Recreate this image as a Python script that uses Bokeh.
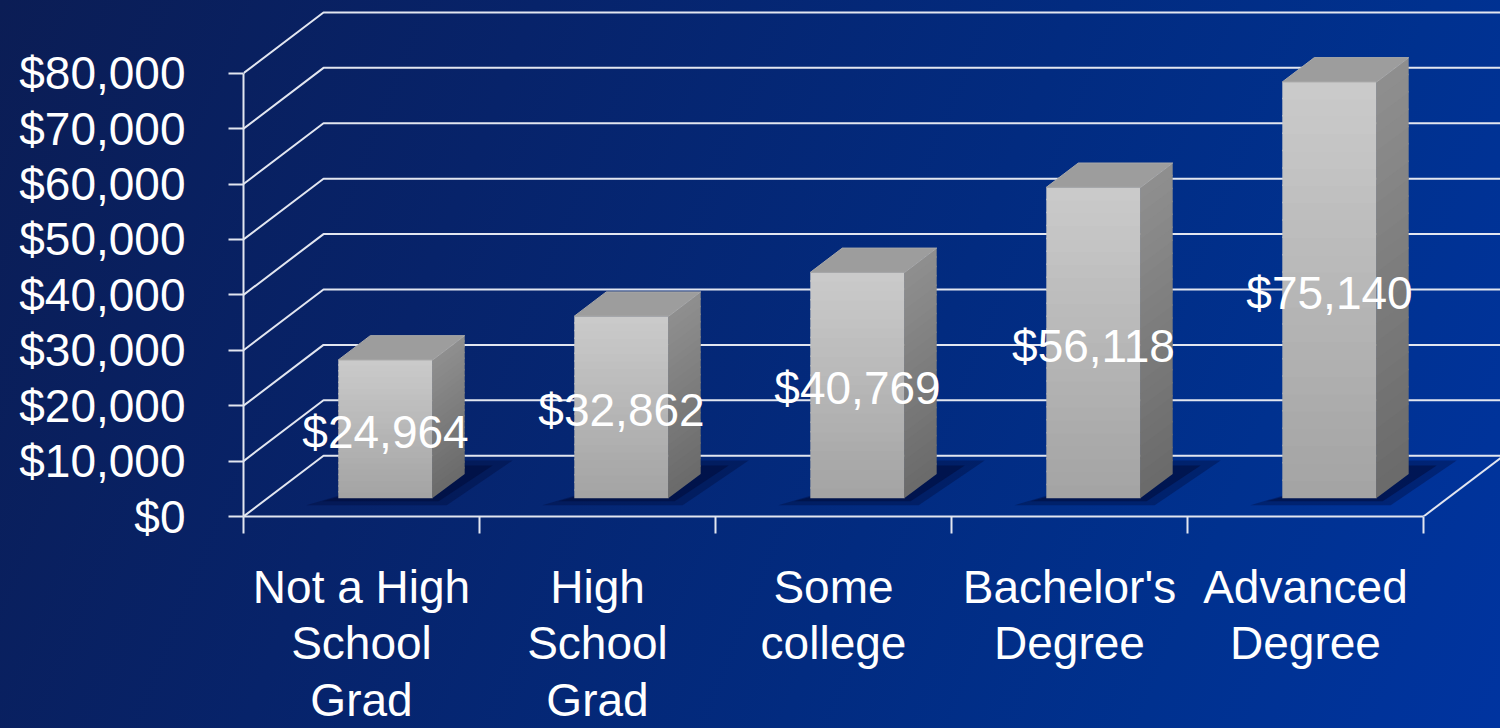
import numpy as np
from bokeh.plotting import figure
from bokeh.models import Range1d, FixedTicker, NumeralTickFormatter
from bokeh.core.properties import value
from bokeh.embed import file_html
from bokeh.resources import INLINE

# ---------------- data ----------------
categories = ["Not a High School Grad", "High School Grad", "Some college",
              "Bachelor's Degree", "Advanced Degree"]
tick_labels = ["Not a High\nSchool\nGrad", "High\nSchool\nGrad", "Some\ncollege",
               "Bachelor's\nDegree", "Advanced\nDegree"]
values = [24964, 32862, 40769, 56118, 75140]
value_labels = ["$24,964", "$32,862", "$40,769", "$56,118", "$75,140"]
y_ticks = [0, 10000, 20000, 30000, 40000, 50000, 60000, 70000, 80000]

# ---------------- geometry / style ----------------
FONT = "Liberation Sans"
W, H = 1500, 728
LEFT, BOTTOM = 243, 210
PX_PER_USD = 445 / 80000.0
BAND_PX = 236.0
X0 = 0.5
XMAX = X0 + (W - LEFT) / BAND_PX
YMAX = (H - BOTTOM) / PX_PER_USD
DX = 80 / BAND_PX          # depth offset in x (data units)
DY = 61 / PX_PER_USD       # depth offset in y (data units)
F0, DEP, BW = 0.3, 0.4, 0.40
PXX = 1 / BAND_PX
PXY = 1 / PX_PER_USD
GRID = "#e2e6f0"

p = figure(width=W, height=H, x_range=Range1d(X0, XMAX), y_range=Range1d(0, YMAX),
           output_backend="svg", toolbar_location=None,
           min_border_left=LEFT, min_border_bottom=BOTTOM,
           min_border_top=0, min_border_right=0)
p.grid.visible = False
p.outline_line_color = None
p.background_fill_alpha = 0
p.border_fill_alpha = 0
p.styles = {
    "background": "linear-gradient(112deg, #0b1d55 0%, #07236a 30%, #022b80 60%, #00318f 80%, #0034a0 100%)",
}

# ---------------- walls / gridlines ----------------
gx, gy = [], []
for t in y_ticks:
    gx.append([X0, X0 + DX, XMAX + 1])
    gy.append([t, t + DY, t + DY])
n_cat = len(categories)
gx.append([X0 + n_cat, X0 + n_cat + DX])
gy.append([0, DY])
p.multi_line(gx, gy, line_color=GRID, line_width=2)

# ---------------- bars ----------------
def mix(c1, c2, f):
    a = np.array([int(c1[i:i + 2], 16) for i in (1, 3, 5)], float)
    b = np.array([int(c2[i:i + 2], 16) for i in (1, 3, 5)], float)
    c = a + (b - a) * f
    return "#%02x%02x%02x" % tuple(int(round(v)) for v in c)

N = 24
shx_o, shy_o, shx_i, shy_i = [], [], [], []
qL, qR, qB, qT, qC = [], [], [], [], []
sX, sY, sC = [], [], []
tX, tY = [], []
lx, ly = [], []
for i, v in enumerate(values):
    cx = i + 1 + F0 * DX
    x0, x1 = cx - BW / 2, cx + BW / 2
    yb = F0 * DY
    ddx, ddy = DEP * DX, DEP * DY
    top = yb + v
    # shadow (outer soft + inner dark)
    shx_o.append([x0 - 32 * PXX, x1 + 14 * PXX, x1 + 80 * PXX, x1 + 25 * PXX])
    shy_o.append([yb - 7 * PXY, yb - 7 * PXY, yb + 38 * PXY, yb + 38 * PXY])
    shx_i.append([x0 - 16 * PXX, x1 + 6 * PXX, x1 + 60 * PXX, x1 + 25 * PXX])
    shy_i.append([yb - 3 * PXY, yb - 3 * PXY, yb + 33 * PXY, yb + 33 * PXY])
    # front and side face strips (slightly overlapping to hide seams)
    for k in range(N):
        f = (k + 0.5) / N
        b0 = yb + v * k / N
        b1 = min(yb + v * (k + 1) / N + 1.5 * PXY, top)
        qL.append(x0); qR.append(x1); qB.append(b0); qT.append(b1)
        qC.append(mix("#a3a3a3", "#cbcbcb", f))
        sX.append([x1 - 0.5 * PXX, x1 + ddx, x1 + ddx, x1 - 0.5 * PXX])
        sY.append([b0, b0 + ddy, b1 + ddy, b1])
        sC.append(mix("#6a6a6a", "#8f8f8f", f))
    tX.append([x0, x1, x1 + ddx, x0 + ddx])
    tY.append([top, top, top + ddy, top + ddy])
    lx.append(cx)
    ly.append(yb + v / 2)

p.patches(shx_o, shy_o, fill_color="#000a35", fill_alpha=0.35, line_color=None)
p.patches(shx_i, shy_i, fill_color="#000a35", fill_alpha=0.5, line_color=None)
p.quad(left=qL, right=qR, bottom=qB, top=qT, fill_color=qC, line_color=None)
p.patches(sX, sY, fill_color=sC, line_color=None)
p.patches(tX, tY, fill_color="#9d9d9d", line_color="#a9a9a9", line_width=1)

p.text(x=lx, y=ly, text=value_labels, text_font=value(FONT), text_font_size="46px",
       text_color="#ffffff", text_align="center", text_baseline="middle", y_offset=3)

# ---------------- axes ----------------
yax = p.yaxis[0]
yax.ticker = FixedTicker(ticks=y_ticks)
yax.formatter = NumeralTickFormatter(format="$0,0")
yax.bounds = (0, 80000)
yax.axis_line_color = GRID
yax.axis_line_width = 2
yax.major_tick_line_color = GRID
yax.major_tick_line_width = 2
yax.major_tick_out = 15
yax.major_tick_in = 0
yax.minor_tick_line_color = None
yax.major_label_text_font = FONT
yax.major_label_text_font_size = "46px"
yax.major_label_text_color = "#ffffff"
yax.major_label_standoff = 43

xax = p.xaxis[0]
xax.ticker = FixedTicker(ticks=[i + 1 for i in range(n_cat)],
                         minor_ticks=[i + 0.5 for i in range(n_cat + 1)])
xax.major_label_overrides = {i + 1: lab for i, lab in enumerate(tick_labels)}
xax.bounds = (X0, X0 + n_cat)
xax.axis_line_color = GRID
xax.axis_line_width = 2
xax.major_tick_line_color = None
xax.major_tick_out = 0
xax.major_tick_in = 0
xax.minor_tick_line_color = GRID
xax.minor_tick_line_width = 2
xax.minor_tick_out = 17
xax.minor_tick_in = 0
xax.major_label_text_font = FONT
xax.major_label_text_font_size = "46px"
xax.major_label_text_line_height = 1.09
xax.major_label_text_color = "#ffffff"
xax.major_label_standoff = 27
xax.major_label_text_align = "center"

open("out.html", "w").write(file_html(p, INLINE))
